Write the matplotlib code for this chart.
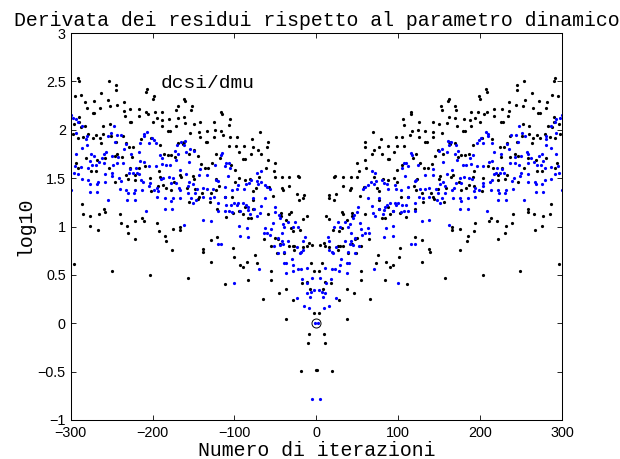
import numpy as np
import matplotlib
matplotlib.use("Agg")
import matplotlib.pyplot as plt

# log10 |d residual / d mu| per iteration index; the values are symmetric in n,
# so only the n >= 0 side is listed and mirrored when plotted.
black_pts = [
    # n 50..150, upper band
    (115, 2.16), (116, 2.18), (106, 2.11), (107, 2.05), (125, 2.08), (142, 2.08), (69, 1.98), (79, 1.90),
    (97, 1.93), (105, 1.93), (114, 1.95), (117, 1.99), (124, 2.00), (133, 1.99), (125, 1.93), (143, 1.98),
    (142, 1.93), (59, 1.87), (60, 1.82), (77, 1.82), (88, 1.83), (98, 1.83), (107, 1.83), (133, 1.87),
    (135, 1.87), (71, 1.79), (68, 1.75), (80, 1.75), (87, 1.70), (89, 1.70), (95, 1.77), (122, 1.75),
    (118, 1.71), (50, 1.66), (59, 1.69), (61, 1.60), (52, 1.57), (99, 1.58), (104, 1.64), (127, 1.66),
    (132, 1.60), (136, 1.61), (141, 1.65), (145, 1.73), (149, 1.79),
    # n 150..300, upper band
    (291, 2.54), (290, 2.50), (253, 2.50), (245, 2.46), (245, 2.41), (207, 2.42), (208, 2.39), (198, 2.35),
    (200, 2.32), (162, 2.32), (161, 2.30), (152, 2.25), (153, 2.20), (169, 2.25), (171, 2.20), (189, 2.18),
    (197, 2.18), (208, 2.18), (205, 2.16), (217, 2.22), (227, 2.21), (235, 2.19), (235, 2.29), (244, 2.26),
    (252, 2.25), (255, 2.31), (263, 2.38), (264, 2.23), (272, 2.30), (271, 2.17), (273, 2.17), (280, 2.23),
    (282, 2.29), (288, 2.36), (295, 2.35), (290, 2.13), (290, 2.08), (162, 2.13), (169, 2.12), (180, 2.11),
    (188, 2.10), (194, 2.12), (200, 2.08), (217, 2.14), (226, 2.08), (228, 2.08), (234, 2.14), (252, 2.06),
    (260, 2.04), (283, 2.04), (288, 2.03), (296, 2.06), (150, 2.06), (160, 2.07), (172, 2.04), (189, 2.04),
    (179, 1.99), (181, 1.99), (154, 1.97), (236, 1.94), (251, 1.94), (260, 1.96), (269, 1.95), (273, 1.91),
    (279, 1.96), (285, 1.93), (291, 1.91), (297, 1.96), (162, 1.87), (163, 1.85), (169, 1.86), (191, 1.84),
    (202, 1.91), (214, 1.90), (224, 1.82), (229, 1.82), (233, 1.86), (245, 1.87), (263, 1.86), (264, 1.91),
    (177, 1.74), (181, 1.74), (173, 1.72), (186, 1.75), (155, 1.75), (225, 1.72), (237, 1.72), (246, 1.73),
    (243, 1.75), (258, 1.71), (268, 1.69), (281, 1.71), (253, 1.60), (269, 1.57), (275, 1.57), (192, 1.57),
    (216, 1.60), (227, 1.60), (209, 1.63), (291, 1.60), (294, 1.66),
    # n 0..150, lower band
    (21, 1.51), (23, 1.52), (33, 1.51), (42, 1.51), (50, 1.51), (70, 1.51), (81, 1.49), (87, 1.48),
    (95, 1.50), (99, 1.46), (123, 1.49), (119, 1.42), (122, 1.38), (42, 1.40), (41, 1.38), (33, 1.42),
    (58, 1.41), (53, 1.32), (74, 1.40), (77, 1.37), (24, 1.34), (15, 1.33), (16, 1.29), (21, 1.27),
    (103, 1.31), (112, 1.31), (129, 1.35), (130, 1.25), (140, 1.35), (143, 1.31), (144, 1.28), (150, 1.49),
    (148, 1.39), (77, 1.27), (77, 1.18), (87, 1.20), (94, 1.16), (90, 1.13), (102, 1.14), (110, 1.10),
    (121, 1.18), (12, 1.11), (16, 1.08), (31, 1.15), (33, 1.13), (37, 1.07), (43, 1.11), (43, 1.14),
    (59, 1.13), (80, 1.09), (84, 1.09), (31, 0.98), (28, 0.95), (20, 0.96), (5, 0.81), (11, 0.80),
    (16, 0.79), (9, 0.83), (27, 0.80), (29, 0.80), (33, 0.80), (50, 0.88), (47, 0.87), (44, 0.82),
    (64, 0.87), (55, 0.80), (39, 0.73), (27, 0.76), (48, 0.73), (75, 0.71), (102, 0.78), (101, 0.69),
    (121, 0.89), (129, 0.86), (138, 0.77), (139, 0.74), (7, 0.62), (3, 0.54), (11, 0.43), (18, 0.42),
    (55, 0.54), (55, 0.45), (73, 0.62), (85, 0.63), (90, 0.58), (93, 0.60), (84, 0.45), (111, 0.41),
    (129, 0.63), (37, 0.35),
    # n 150..300, lower band
    (151, 1.52), (165, 1.51), (167, 1.53), (203, 1.50), (191, 1.51), (222, 1.53), (222, 1.48), (230, 1.49),
    (233, 1.53), (246, 1.46), (158, 1.40), (174, 1.46), (177, 1.38), (183, 1.40), (187, 1.43), (193, 1.42),
    (202, 1.37), (156, 1.25), (213, 1.09), (211, 1.06), (221, 1.06), (240, 1.13), (239, 1.04), (231, 1.01),
    (230, 0.93), (258, 1.15), (259, 1.18), (266, 1.13), (277, 1.11), (285, 1.13), (286, 1.23), (276, 1.01),
    (267, 0.96), (166, 1.00), (166, 0.96), (175, 0.97), (194, 1.04), (192, 0.95), (185, 0.90), (184, 0.85),
    (222, 0.87), (176, 0.76), (296, 0.61), (249, 0.54), (203, 0.50), (157, 0.47),
    # around n = 0
    (1, -0.48), (3, 0.11), (9, -0.11), (10, -0.20), (19, -0.49), (28, 0.24), (37, 0.04), (46, 0.31),
    (65, 0.25), (8, 0.35),
]

blue_pts = [
    (115, 1.76), (117, 1.74), (107, 1.66), (110, 1.66), (105, 1.60), (112, 1.63), (124, 1.64), (142, 1.59),
    (68, 1.57),
    (300, 2.15), (297, 2.12), (293, 2.11), (291, 2.08), (286, 2.04), (293, 1.97), (280, 1.94), (281, 1.90),
    (280, 1.84), (286, 1.81), (293, 1.75), (247, 2.04), (251, 1.97), (244, 1.95), (255, 1.94), (238, 1.95),
    (246, 1.87), (207, 1.98), (210, 1.96), (210, 1.94), (201, 1.92), (198, 1.89), (204, 1.86), (196, 1.86),
    (215, 1.86), (217, 1.77), (226, 1.75), (233, 1.85), (235, 1.80), (242, 1.72), (257, 1.77), (259, 1.75),
    (250, 1.73), (262, 1.71), (272, 1.73), (275, 1.75), (161, 1.88), (162, 1.84), (165, 1.87), (154, 1.80),
    (159, 1.77), (150, 1.78), (170, 1.84), (173, 1.78), (169, 1.75), (155, 1.67), (172, 1.69), (179, 1.64),
    (183, 1.64), (188, 1.71), (191, 1.74), (189, 1.65), (196, 1.63), (204, 1.63), (211, 1.67), (215, 1.68),
    (220, 1.60), (227, 1.59), (236, 1.66), (243, 1.66), (248, 1.64), (259, 1.66), (266, 1.67), (269, 1.64),
    (274, 1.64), (277, 1.68), (279, 1.60), (287, 1.62), (295, 1.63), (166, 1.58),
    (72, 1.55), (108, 1.52), (122, 1.48), (133, 1.53), (143, 1.53), (63, 1.43), (60, 1.41), (57, 1.39),
    (67, 1.46), (71, 1.44), (73, 1.47), (80, 1.48), (82, 1.45), (88, 1.39), (86, 1.44), (96, 1.43),
    (97, 1.39), (103, 1.38), (112, 1.41), (120, 1.47), (126, 1.39), (133, 1.39), (138, 1.40), (146, 1.39),
    (151, 1.44), (148, 1.35), (63, 1.29), (77, 1.29), (68, 1.21), (76, 1.18), (84, 1.20), (86, 1.22),
    (90, 1.24), (96, 1.24), (100, 1.24), (97, 1.22), (104, 1.22), (110, 1.22), (112, 1.31), (120, 1.24),
    (125, 1.31), (130, 1.29), (138, 1.30), (147, 1.27), (151, 1.24), (51, 1.20), (50, 1.15), (46, 1.12),
    (45, 1.09), (69, 1.14), (72, 1.11), (81, 1.13), (83, 1.17), (103, 1.15), (107, 1.16), (112, 1.16),
    (93, 1.16), (120, 1.16), (129, 1.06), (138, 1.07), (26, 1.05), (22, 1.00), (29, 1.00), (35, 1.05),
    (41, 1.03), (39, 0.99), (42, 0.93), (55, 0.97), (53, 1.04), (64, 0.93), (60, 0.93), (56, 0.91),
    (63, 0.98), (85, 0.98), (94, 1.01), (83, 0.89), (93, 0.90), (14, 0.89), (16, 0.85), (19, 0.74),
    (20, 0.73), (16, 0.76), (24, 0.79), (35, 0.85), (42, 0.85), (41, 0.82), (47, 0.88), (52, 0.80),
    (45, 0.81), (39, 0.74), (47, 0.73), (116, 0.82), (120, 0.82), (30, 0.66), (40, 0.62), (37, 0.62),
    (29, 0.60), (23, 0.56), (19, 0.56), (11, 0.57), (18, 0.46), (28, 0.54), (37, 0.52), (5, 0.47),
    (12, 0.42), (70, 0.56), (100, 0.42),
    (159, 1.54), (155, 1.46), (157, 1.42), (157, 1.35), (153, 1.29), (166, 1.38), (168, 1.40), (171, 1.45),
    (175, 1.50), (180, 1.51), (187, 1.50), (190, 1.49), (177, 1.45), (194, 1.40), (193, 1.37), (198, 1.38),
    (204, 1.42), (203, 1.45), (212, 1.46), (214, 1.48), (217, 1.54), (219, 1.55), (224, 1.55), (229, 1.55),
    (239, 1.47), (241, 1.50), (249, 1.52), (250, 1.55), (258, 1.54), (258, 1.46), (267, 1.46), (268, 1.44),
    (276, 1.44), (279, 1.48), (286, 1.49), (291, 1.54), (296, 1.55), (300, 1.38), (213, 1.38), (222, 1.38),
    (223, 1.35), (230, 1.35), (232, 1.38), (240, 1.39), (167, 1.29), (175, 1.29), (177, 1.26), (185, 1.29),
    (194, 1.30), (222, 1.27), (231, 1.27), (254, 1.27), (176, 1.18), (185, 1.18), (208, 1.16), (162, 1.02),
    (268, 1.36), (277, 1.36),
    (3, 0.34), (7, 0.32), (11, 0.31), (8, 0.27), (24, 0.26), (9, 0.16), (15, 0.18), (5, -0.78), (2, 0.00),
]

center_mark = (0.0, 0.0)
xticks = [-300, -200, -100, 0, 100, 200, 300]
yticks = [-1, -0.5, 0, 0.5, 1, 1.5, 2, 2.5, 3]
ytick_labels = ["\u22121", "\u22120.5", "0", "0.5", "1", "1.5", "2", "2.5", "3"]
xtick_labels = ["\u2212300", "\u2212200", "\u2212100", "0", "100", "200", "300"]


def both_sides(pts):
    n = np.array([p[0] for p in pts], dtype=float)
    v = np.array([p[1] for p in pts], dtype=float)
    return np.concatenate([-n, n]), np.concatenate([v, v])


mono = ["Liberation Mono", "DejaVu Sans Mono"]
sans = ["Liberation Sans", "DejaVu Sans"]

fig = plt.figure(figsize=(6.2, 4.59), dpi=100)
ax = fig.add_axes([0.114, 0.085, 0.7925, 0.843])

bx, by = both_sides(black_pts)
ux, uy = both_sides(blue_pts)
ax.plot(bx, by, linestyle="none", marker="o", ms=2.3, mew=0, color="black")
ax.plot(ux, uy, linestyle="none", marker="o", ms=2.3, mew=0, color="#0000ff")
ax.plot([center_mark[0]], [center_mark[1]], linestyle="none", marker="o", ms=6.5,
        mfc="none", mec="black", mew=0.7)

ax.set_xlim(-300, 300)
ax.set_ylim(-1, 3)
ax.set_xticks(xticks)
ax.set_xticklabels(xtick_labels, family=sans, fontsize=10.4)
ax.set_yticks(yticks)
ax.set_yticklabels(ytick_labels, family=sans, fontsize=10.4)
ax.tick_params(direction="in", length=3.5, width=0.6, top=True, right=True)
ax.tick_params(axis="y", pad=3.5)
ax.tick_params(axis="x", pad=4)
for s in ax.spines.values():
    s.set_linewidth(0.75)

ax.set_title("Derivata dei residui rispetto al parametro dinamico", family=mono,
             fontsize=14.3, pad=5)
ax.set_xlabel("Numero di iterazioni", family=mono, fontsize=14.3, labelpad=1)
ax.set_ylabel("log10", family=mono, fontsize=14.3, labelpad=2)
ax.text(-190, 2.48, "dcsi/dmu", family=mono, fontsize=14, ha="left", va="center")

fig.savefig("out.png", dpi=100)
